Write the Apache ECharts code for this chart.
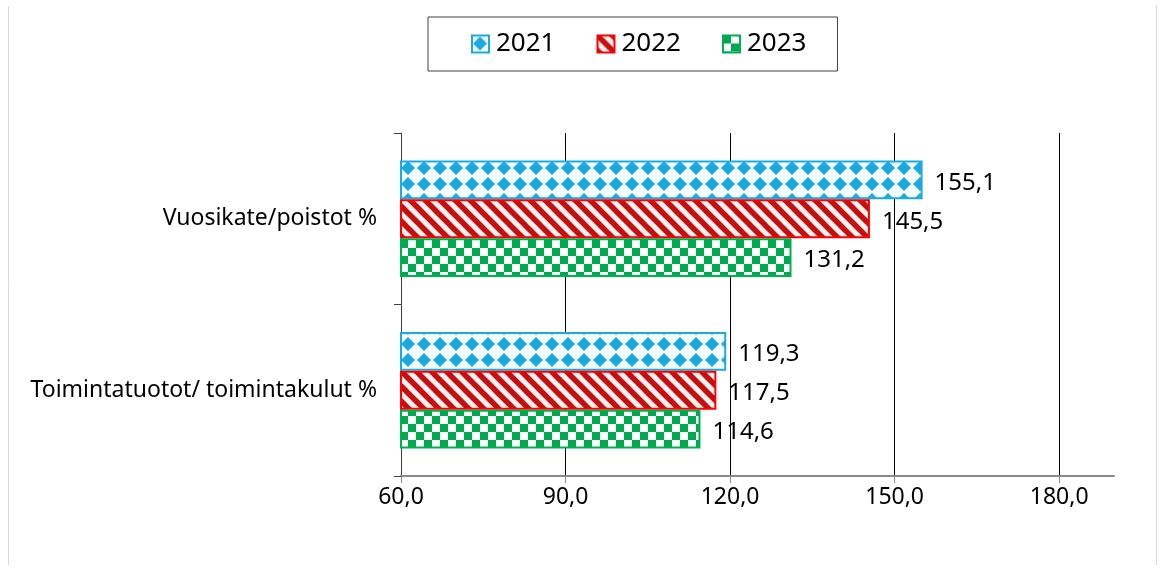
<!DOCTYPE html>
<html><head><meta charset="utf-8">
<script src="https://cdn.jsdelivr.net/npm/echarts@6/dist/echarts.min.js"></script>
<style>html,body{margin:0;padding:0;background:#fff}#c{width:1160px;height:571px}</style>
</head><body><div id="c"></div>
<script>
const categories = ['Vuosikate/poistot %', 'Toimintatuotot/ toimintakulut %'];
const years = ['2021', '2022', '2023'];
const values2021 = [155.1, 119.3];
const values2022 = [145.5, 117.5];
const values2023 = [131.2, 114.6];
const xTickValues = [60, 90, 120, 150, 180];
const xMin = 60, xMax = 190;

function fmt(v) { return Number(v).toFixed(1).replace('.', ','); }

function diamondTile() {
  const c = document.createElement('canvas'); c.width = 16; c.height = 16;
  const g = c.getContext('2d');
  g.fillStyle = '#f4fbff'; g.fillRect(0, 0, 16, 16);
  g.fillStyle = '#1aa9e0';
  g.beginPath(); g.moveTo(8, 1); g.lineTo(15, 8); g.lineTo(8, 15); g.lineTo(1, 8); g.closePath(); g.fill();
  return c;
}
function stripeTile() {
  const c = document.createElement('canvas'); c.width = 15; c.height = 15;
  const g = c.getContext('2d');
  g.fillStyle = '#fff0f0'; g.fillRect(0, 0, 15, 15);
  g.strokeStyle = '#c41010'; g.lineWidth = 5.5;
  [-15, 0, 15].forEach(k => { g.beginPath(); g.moveTo(k - 5, -5); g.lineTo(k + 20, 20); g.stroke(); });
  return c;
}
function checkerTile() {
  const c = document.createElement('canvas'); c.width = 16; c.height = 16;
  const g = c.getContext('2d');
  g.fillStyle = '#fbfffc'; g.fillRect(0, 0, 16, 16);
  g.fillStyle = '#00a850';
  g.fillRect(0, 0, 8, 8); g.fillRect(8, 8, 8, 8);
  return c;
}

const patterns = [diamondTile(), stripeTile(), checkerTile()];
const borders = ['#1aabe3', '#ff0000', '#00b050'];
const seriesValues = [values2021, values2022, values2023];
const FONT = 'Noto Sans';

const chart = echarts.init(document.getElementById('c'), null, { renderer: 'canvas' });
chart.setOption({
  backgroundColor: '#ffffff',
  animation: false,
  textStyle: { fontFamily: FONT },
  legend: {
    data: years,
    left: 428, top: 17,
    padding: [14, 31, 14, 43],
    borderColor: '#404040', borderWidth: 1,
    itemWidth: 17, itemHeight: 17, itemGap: 41,
    icon: 'rect',
    textStyle: { fontFamily: FONT, fontSize: 26, color: '#000', padding: [0, 0, 0, 2] }
  },
  grid: { left: 401, right: 46, top: 133, bottom: 95 },
  xAxis: {
    type: 'value', min: xMin, max: xMax, interval: 30,
    axisLine: { show: true, lineStyle: { color: '#8a8a8a', width: 2 } },
    axisTick: { show: true, length: 7, lineStyle: { color: '#8a8a8a', width: 1 }, customValues: xTickValues },
    axisLabel: { customValues: xTickValues, formatter: fmt, color: '#000', fontSize: 23, fontFamily: FONT, margin: 10 },
    splitLine: { show: true, lineStyle: { color: '#000', width: 1 } }
  },
  yAxis: {
    type: 'category', data: categories, inverse: true,
    axisLine: { show: true, lineStyle: { color: '#404040', width: 1 } },
    axisTick: { show: true, length: 7, lineStyle: { color: '#404040' } },
    axisLabel: { color: '#000', fontSize: 23, fontFamily: FONT, margin: 24 }
  },
  series: years.map((y, i) => ({
    name: y, type: 'bar',
    data: seriesValues[i],
    barGap: '0%', barCategoryGap: '32%',
    itemStyle: { color: { image: patterns[i], repeat: 'repeat' }, borderColor: borders[i], borderWidth: 2 },
    label: { show: true, position: 'right', distance: 12, offset: [0, 3], formatter: p => fmt(p.value), color: '#000', fontSize: 24, fontFamily: FONT }
  })),
  graphic: [
    { type: 'line', shape: { x1: 8.5, y1: 6, x2: 8.5, y2: 565 }, style: { stroke: '#d9d9d9', lineWidth: 1 }, silent: true },
    { type: 'line', shape: { x1: 1156.5, y1: 6, x2: 1156.5, y2: 565 }, style: { stroke: '#d9d9d9', lineWidth: 1 }, silent: true }
  ]
});
</script></body></html>
